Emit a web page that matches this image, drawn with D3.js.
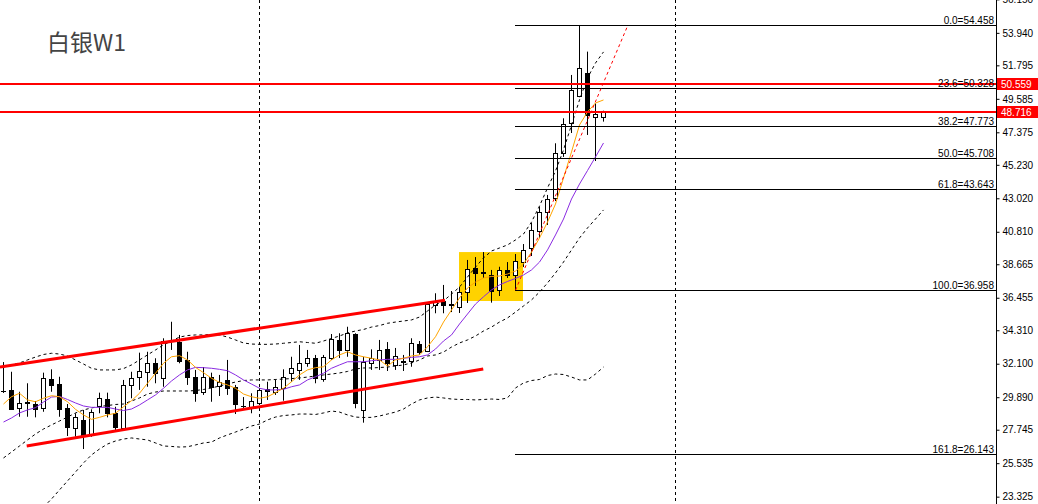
<!DOCTYPE html>
<html><head><meta charset="utf-8">
<script src="https://cdn.jsdelivr.net/npm/d3@7"></script>
<style>html,body{margin:0;padding:0;background:#fff;overflow:hidden}</style>
</head><body><svg id="c" width="1038" height="504"></svg>
<script>
// ---- data (weekly silver candles, index 0..75) ----
const openP = [30.33,30.37,29.16,29.59,29.44,29.16,31.07,30.76,29.16,27.84,
28.39,27.40,29.31,29.75,28.83,27.84,30.70,31.20,31.57,32.17,
31.14,33.62,33.55,32.35,31.24,30.23,31.24,30.63,31.03,30.54,
29.34,29.26,29.53,30.41,30.25,30.48,31.47,31.69,32.13,32.46,
31.07,32.46,33.67,33.01,34.04,29.05,32.17,32.35,33.05,32.02,
32.28,32.28,33.40,32.94,35.98,36.24,36.04,35.86,36.85,38.40,
38.13,37.96,36.97,38.29,37.96,38.83,39.72,40.88,42.13,43.04,
46.03,47.97,49.77,51.27,48.37,48.37];
const highP = [32.21,31.57,30.25,30.81,29.64,31.51,31.73,31.24,29.44,28.83,
29.05,29.09,30.19,30.19,29.26,31.03,31.57,32.83,32.89,32.46,
33.78,34.87,34.00,32.89,31.69,31.88,31.51,31.36,32.35,30.70,
29.90,30.15,30.50,30.91,31.07,31.73,32.56,33.34,33.01,32.68,
32.68,34.06,34.11,34.54,34.11,32.56,33.05,33.67,33.53,33.14,
32.68,33.78,33.60,36.11,36.75,37.30,36.90,37.16,38.95,39.14,
39.47,38.29,38.50,38.81,39.34,40.00,41.39,42.46,43.24,46.65,
48.30,51.16,54.458,52.70,49.29,48.80];
const lowP = [30.17,29.05,28.60,28.60,28.56,28.93,30.25,28.60,27.33,27.28,
26.47,27.28,28.83,28.56,27.73,27.73,29.82,30.37,30.58,30.81,
30.58,33.01,32.13,30.70,29.59,30.04,29.59,29.97,30.04,28.78,
29.18,28.83,29.38,29.71,30.04,29.66,30.91,31.03,31.90,30.81,
30.91,32.35,32.48,32.56,29.16,28.21,31.69,31.69,31.62,31.69,
31.62,31.90,32.68,32.87,35.43,35.43,35.51,35.45,36.11,37.23,
37.76,36.13,36.57,37.76,36.90,38.48,39.21,40.40,41.26,42.84,
45.75,47.33,49.69,47.20,45.48,48.08];
const closeP = [30.30,29.09,29.49,29.49,29.09,31.14,30.70,29.13,27.90,28.56,
27.40,28.93,29.82,28.83,27.90,30.70,31.14,31.62,32.17,31.51,
33.62,33.57,32.30,31.24,30.19,31.24,30.58,30.89,30.48,29.44,
29.31,29.66,30.37,30.30,30.54,31.24,31.80,32.13,32.46,31.14,
32.52,33.71,33.01,34.11,29.53,32.23,32.50,33.01,32.15,32.61,
32.21,33.47,32.89,36.02,36.19,35.98,35.98,36.85,38.33,38.11,
38.07,36.92,38.29,37.96,38.88,39.61,40.93,42.13,42.97,45.99,
47.92,50.17,51.60,48.52,48.56,48.716];
const maFast = [29.44,29.92,30.15,29.71,29.59,29.82,29.99,29.92,29.59,29.09,
28.72,28.43,28.56,28.72,28.83,29.26,29.66,30.15,30.81,31.47,
32.13,32.56,32.63,32.35,31.86,31.51,31.14,30.87,30.70,30.48,
30.10,29.92,29.82,29.92,30.19,30.48,30.91,31.36,31.69,31.84,
31.90,32.35,32.68,32.89,32.68,32.56,32.46,32.35,31.95,32.35,
32.46,32.61,32.68,33.22,33.88,34.85,35.65,36.44,37.10,37.49,
37.76,37.86,37.89,38.02,38.22,38.68,39.47,40.40,41.45,42.64,
44.36,46.08,47.86,48.72,49.31,49.51];
const maSlow = [28.25,28.52,28.85,29.05,29.20,29.57,29.90,29.94,29.74,29.51,
29.31,29.22,29.22,29.22,29.11,29.01,29.11,29.38,29.71,30.04,
30.48,30.96,31.36,31.69,31.86,31.84,31.80,31.73,31.64,31.36,
31.03,30.76,30.48,30.37,30.37,30.41,30.58,30.70,31.03,31.24,
31.47,31.80,32.02,32.23,32.23,32.23,32.30,32.35,32.39,32.39,
32.46,32.52,32.56,32.68,33.07,33.60,34.00,34.72,35.38,36.04,
36.52,36.97,37.30,37.53,37.73,37.96,38.29,38.81,39.61,40.60,
41.65,42.97,43.96,44.85,45.75,46.67];
const bbUpper = [31.88,32.02,32.15,32.35,32.54,32.71,32.79,32.74,32.61,32.35,
32.08,31.80,31.69,31.69,31.69,31.78,32.02,32.35,32.68,33.01,
33.34,33.60,33.86,33.96,34.00,34.00,34.03,34.00,33.86,33.67,
33.47,33.40,33.38,33.38,33.40,33.45,33.50,33.55,33.50,33.45,
33.60,33.77,33.93,34.13,34.26,34.36,34.52,34.62,34.77,34.85,
34.92,34.99,35.18,35.58,35.98,36.24,36.70,37.16,37.82,38.48,
39.08,39.54,39.74,39.94,40.27,40.66,41.45,42.51,43.70,44.82,
46.21,47.86,49.51,50.96,51.95,52.68];
const bbMiddle = [25.88,26.27,26.67,27.07,27.46,27.79,28.06,28.32,28.58,28.85,
29.05,29.18,29.28,29.34,29.41,29.44,29.64,29.84,30.10,30.23,
30.30,30.30,30.30,30.30,30.33,30.40,30.50,30.63,30.76,30.89,
30.99,31.03,31.03,31.03,31.06,31.09,31.12,31.16,31.22,31.29,
31.36,31.42,31.49,31.59,31.75,31.82,31.82,31.85,31.88,31.95,
32.02,32.15,32.35,32.61,32.68,32.87,33.20,33.47,33.67,33.93,
34.26,34.52,34.85,35.12,35.51,35.91,36.31,36.83,37.43,38.09,
38.81,39.61,40.40,41.06,41.65,42.25];
const bbLower = [null,null,null,null,null,22.64,23.17,23.77,24.36,24.95,
25.55,26.08,26.47,26.80,27.00,27.13,27.20,27.13,27.07,26.87,
26.67,26.64,26.60,26.62,26.74,26.87,26.93,27.20,27.40,27.59,
27.79,27.99,28.12,28.39,28.58,28.68,28.72,28.78,28.78,28.75,
28.85,28.98,28.91,28.72,28.58,28.55,28.56,28.65,28.78,28.91,
29.11,29.44,29.71,29.84,29.90,29.84,29.77,29.74,29.74,29.71,
29.74,29.77,29.74,29.84,30.50,30.83,30.99,31.06,31.32,31.42,
31.39,31.22,31.03,31.03,31.42,31.88];
const priceTicks = [56.150,53.940,51.795,49.585,47.375,45.230,43.020,40.810,38.665,36.455,34.310,32.100,29.890,27.745,25.535,23.325];
const fibLevels = [0.0,23.6,38.2,50.0,61.8,100.0,161.8];
const fibPrices = [54.458,50.328,47.773,45.708,43.643,36.958,26.143];
const fibStartIndex = 64;
const hLinePrices = [50.559,48.716];
const separatorIndex = [32,84];
const channelUpper = [[-0.44,31.88],[55.19,36.29]];
const channelLower = [[2.9,26.67],[59.97,31.75]];
const trendRay = [[64,36.958],[78.06,54.458]];
const boxIndex = [57,65];
const boxPrice = [36.24,39.47];
const title = "白银W1";

// ---- drawing ----
const W=1038,H=504,AX=996;
const svg=d3.select("#c");
const x=d3.scaleLinear().domain([0,75]).range([3.5,603.5]);
const y=d3.scaleLinear().domain([22.841,56.108]).range([504,0]);
const cy=p=>Math.round(y(p))+0.5;
svg.append("rect").attr("width",W).attr("height",H).attr("fill","#fff");
svg.append("defs").append("clipPath").attr("id","pc").append("rect").attr("x",0).attr("y",0).attr("width",AX).attr("height",H);
const g=svg.append("g").attr("clip-path","url(#pc)");

// yellow box
g.append("rect").attr("x",x(boxIndex[0])-0.5).attr("y",y(boxPrice[1]))
 .attr("width",x(boxIndex[1])-x(boxIndex[0])).attr("height",y(boxPrice[0])-y(boxPrice[1]))
 .attr("fill","#ffd200");

// separators
g.selectAll(".sep").data(separatorIndex).join("line")
 .attr("x1",d=>x(d)).attr("x2",d=>x(d)).attr("y1",0).attr("y2",H)
 .attr("stroke","#000").attr("stroke-width",1).attr("stroke-dasharray","3,3");

// candles
const idx=d3.range(openP.length);
const cg=g.append("g");
cg.selectAll(".wick").data(idx).join("line")
 .attr("x1",i=>x(i)).attr("x2",i=>x(i)).attr("y1",i=>y(highP[i])).attr("y2",i=>y(lowP[i]))
 .attr("stroke","#000").attr("stroke-width",1);
cg.selectAll(".body").data(idx).join("rect")
 .attr("x",i=>x(i)-2).attr("width",4)
 .attr("y",i=>Math.round(y(Math.max(openP[i],closeP[i])))+0.5)
 .attr("height",i=>Math.max(0.01,Math.round(y(Math.min(openP[i],closeP[i])))-Math.round(y(Math.max(openP[i],closeP[i])))))
 .attr("fill",i=>closeP[i]>=openP[i]?"#fff":"#000")
 .attr("stroke","#000").attr("stroke-width",1);

// indicator lines
const line=d3.line().defined(d=>d!=null).x((d,i)=>x(i)).y(d=>y(d));
[[bbUpper,"#000","3,3"],[bbMiddle,"#000","3,3"],[bbLower,"#000","3,3"],[maSlow,"#8a2be2",null],[maFast,"#ffa500",null]]
.forEach(([arr,col,dash])=>{
  g.append("path").datum(arr).attr("d",line).attr("fill","none").attr("stroke",col)
   .attr("stroke-width",1).attr("stroke-dasharray",dash);
});

// fib lines
g.selectAll(".fib").data(fibPrices).join("line")
 .attr("x1",x(fibStartIndex)-0.5).attr("x2",AX).attr("y1",d=>cy(d)).attr("y2",d=>cy(d))
 .attr("stroke","#000").attr("stroke-width",1);

// channel lines
[channelUpper,channelLower].forEach(c=>{
  g.append("line").attr("x1",x(c[0][0])).attr("y1",y(c[0][1])).attr("x2",x(c[1][0])).attr("y2",y(c[1][1]))
   .attr("stroke","#ff0000").attr("stroke-width",3);
});
// red dotted ray
g.append("line").attr("x1",x(trendRay[0][0])).attr("y1",y(trendRay[0][1])).attr("x2",x(trendRay[1][0])).attr("y2",y(trendRay[1][1]))
 .attr("stroke","#ff0000").attr("stroke-width",1).attr("stroke-dasharray","3,3");

// horizontal red lines
g.selectAll(".hl").data(hLinePrices).join("line")
 .attr("x1",0).attr("x2",AX).attr("y1",d=>Math.round(y(d))).attr("y2",d=>Math.round(y(d)))
 .attr("stroke","#ff0000").attr("stroke-width",2);

// fib labels
svg.selectAll(".fl").data(fibPrices).join("text")
 .attr("x",994).attr("y",d=>cy(d)-2).attr("text-anchor","end")
 .attr("font-family","'Liberation Sans',Arial,sans-serif").attr("font-size",10).attr("fill","#000")
 .text((d,i)=>fibLevels[i].toFixed(1)+"="+d.toFixed(3));

// axis
const ax=svg.append("g").attr("transform",`translate(${AX+0.5},0)`)
 .call(d3.axisRight(y).tickValues(priceTicks).tickSize(3).tickSizeOuter(0).tickPadding(3).tickFormat(d=>d.toFixed(3)));
ax.select(".domain").attr("d",`M0,0V${H}`).attr("stroke","#000");
ax.selectAll(".tick line").attr("stroke","#000");
ax.selectAll("text").attr("font-family","'Liberation Sans',Arial,sans-serif").attr("font-size",10).attr("fill","#000");

// price labels
const pl=svg.selectAll(".pl").data(hLinePrices).join("g");
pl.append("rect").attr("x",AX+1).attr("y",d=>Math.round(y(d))-6).attr("width",W-AX-1).attr("height",12).attr("fill","#ff0000");
pl.append("text").attr("x",AX+5).attr("y",d=>Math.round(y(d))+4).attr("fill","#fff")
 .attr("font-family","'Liberation Sans',Arial,sans-serif").attr("font-size",10).text(d=>d.toFixed(3));

// title
svg.append("text").attr("x",47).attr("y",51).attr("font-family","'Noto Sans CJK SC',sans-serif")
 .attr("font-size",23).attr("fill","#444").text(title);
</script></body></html>
